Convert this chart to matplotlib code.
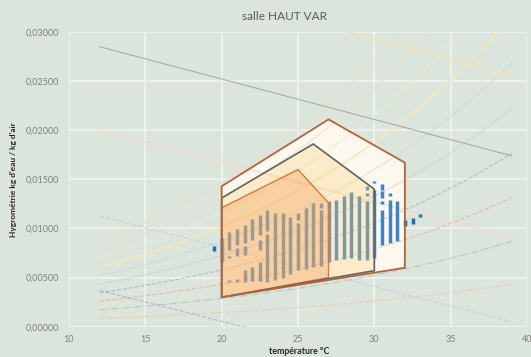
import numpy as np
import matplotlib
matplotlib.use("Agg")
import matplotlib.pyplot as plt
from matplotlib.patches import Polygon
from matplotlib.ticker import FuncFormatter

plt.rcParams['font.family'] = ['Lato', 'DejaVu Sans']

# ---- texts and ticks ----
title = "salle HAUT VAR"
x_label = "température °C"
y_label = "Hygrométrie kg d'eau / kg d'air"
x_ticks = [10, 15, 20, 25, 30, 35, 40]
y_ticks = [0.0, 0.005, 0.010, 0.015, 0.020, 0.025, 0.030]

# ---- comfort zones (temperature °C, humidity kg/kg) ----
zone_outer_t = [20, 20, 27, 32, 32]
zone_outer_w = [0.0030, 0.0143, 0.0211, 0.0167, 0.0060]
zone_mid_t = [20, 20, 26, 30, 30]
zone_mid_w = [0.0030, 0.0131, 0.0186, 0.0140, 0.0057]
zone_inner_t = [20, 20, 25, 27, 27]
zone_inner_w = [0.0030, 0.0121, 0.0160, 0.0126, 0.0050]

# ---- measured readings: humidity ranges observed at each temperature ----
meas_t = [19.5, 20.0,
          20.5, 20.5, 20.5,
          21.0, 21.0, 21.0,
          21.5, 21.5, 21.5,
          22.0, 22.0,
          22.5, 22.5, 22.5,
          23.0, 23.0,
          23.5, 24.0, 24.5,
          25.0, 25.0,
          25.5, 26.0,
          26.5, 26.5,
          27.0, 27.5, 28.0, 28.5, 29.0,
          29.5, 29.5, 29.5,
          30.0, 30.0,
          30.5, 30.5, 30.5, 30.5,
          31.0, 31.0,
          31.5, 32.0, 32.5, 33.0]
meas_lo = [0.0077, 0.0066,
           0.0078, 0.0070, 0.0045,
           0.0083, 0.0072, 0.0045,
           0.0085, 0.0073, 0.0046,
           0.0088, 0.0047,
           0.0093, 0.0078, 0.0047,
           0.0097, 0.0046,
           0.0048, 0.0050, 0.0054,
           0.0109, 0.0058,
           0.0059, 0.0061,
           0.0121, 0.0062,
           0.0066, 0.0068, 0.0069, 0.0070, 0.0068,
           0.0139, 0.0133, 0.0068,
           0.0146, 0.0070,
           0.0139, 0.0131, 0.0125, 0.0083,
           0.0133, 0.0085,
           0.0087, 0.0103, 0.0105, 0.0112]
meas_hi = [0.0082, 0.0090,
           0.0096, 0.0072, 0.0048,
           0.0099, 0.0080, 0.0049,
           0.0104, 0.0082, 0.0058,
           0.0110, 0.0061,
           0.0114, 0.0088, 0.0066,
           0.0119, 0.0094,
           0.0116, 0.0116, 0.0112,
           0.0116, 0.0106,
           0.0121, 0.0126,
           0.0126, 0.0119,
           0.0128, 0.0129, 0.0133, 0.0137, 0.0133,
           0.0143, 0.0136, 0.0128,
           0.0148, 0.0139,
           0.0145, 0.0138, 0.0128, 0.0119,
           0.0136, 0.0129,
           0.0128, 0.0109, 0.0111, 0.0115]

# ---- psychrometric guide lines ----
rh_levels = [10, 20, 30, 40, 50, 60, 70, 80, 90, 100]
rh_colors = ['#e6cf9f', '#9a9a9a', '#e2a27a', '#8394b8', '#c3d0e2',
             '#c9d6e6', '#f4e8bd', '#eee8d8', '#efdfc4', '#efd8cb']
rh_styles = ['--', '-.', '--', '--', '-', '-', '-', '-', '-', '-']
rh_widths = [1.0, 0.8, 0.9, 0.8, 1.0, 1.0, 1.6, 1.1, 1.2, 1.0]
rh_alphas = [0.7, 0.45, 0.55, 0.5, 0.6, 0.6, 0.9, 0.7, 0.7, 0.6]
enthalpy_levels = [21.4, 40.5, 62.5, 84.0, 105.0]
enthalpy_colors = ['#8796b6', '#bfcce2', '#f1dccb', '#9d9ea8', '#f1e2bb']
enthalpy_styles = ['--', '--', '-', '-', '-']
enthalpy_widths = [0.8, 0.9, 1.5, 0.8, 1.5]
enthalpy_alphas = [0.55, 0.7, 0.8, 0.85, 0.8]
guide_t_min, guide_t_max = 12, 39
pressure = 101325.0


def humidity_ratio(temp, rh):
    ps = 610.94 * np.exp(17.625 * temp / (temp + 243.04))
    pv = rh / 100.0 * ps
    return 0.622 * pv / (pressure - pv)


def enthalpy_humidity(temp, h):
    return (h - 1.006 * temp) / (2501.0 + 1.86 * temp)


bg = '#dce5db'
fig = plt.figure(figsize=(5.31, 3.57), dpi=100, facecolor=bg)
ax = fig.add_axes([69 / 531, 30.3 / 357, 458 / 531, 294.7 / 357], facecolor=bg)
ax.set_xlim(10, 40)
ax.set_ylim(0, 0.03)

# opaque base of the outer zone
ax.add_patch(Polygon(list(zip(zone_outer_t, zone_outer_w)), closed=True,
                     facecolor='#fdf8ee', edgecolor='none', zorder=1))

# guide curves
tt = np.linspace(guide_t_min, guide_t_max, 300)
for rh, c, ls, lw, a in zip(rh_levels, rh_colors, rh_styles, rh_widths, rh_alphas):
    ax.plot(tt, humidity_ratio(tt, rh), color=c, ls=ls, lw=lw, alpha=a, zorder=1.5)
te = np.array([guide_t_min, guide_t_max], dtype=float)
for h, c, ls, lw, a in zip(enthalpy_levels, enthalpy_colors, enthalpy_styles,
                           enthalpy_widths, enthalpy_alphas):
    ax.plot(te, enthalpy_humidity(te, h), color=c, ls=ls, lw=lw, alpha=a, zorder=1.5)

# measured readings
ax.vlines(meas_t, meas_lo, meas_hi, colors='#1f6fc0', lw=2.5, zorder=2)

# translucent zone fills over the readings
ax.add_patch(Polygon(list(zip(zone_outer_t, zone_outer_w)), closed=True,
                     facecolor=(1.0, 0.98, 0.92), alpha=0.15, edgecolor='none', zorder=3))
ax.add_patch(Polygon(list(zip(zone_mid_t, zone_mid_w)), closed=True,
                     facecolor=(0.98, 0.81, 0.45), alpha=0.30, edgecolor='none', zorder=3))
ax.add_patch(Polygon(list(zip(zone_inner_t, zone_inner_w)), closed=True,
                     facecolor=(0.96, 0.60, 0.33), alpha=0.32, edgecolor='none', zorder=3))

# zone outlines
ax.add_patch(Polygon(list(zip(zone_inner_t, zone_inner_w)), closed=True,
                     facecolor='none', edgecolor='#d4793f', lw=1.0, zorder=4))
ax.add_patch(Polygon(list(zip(zone_mid_t, zone_mid_w)), closed=True,
                     facecolor='none', edgecolor='#5d6266', lw=1.2, zorder=4))
ax.add_patch(Polygon(list(zip(zone_outer_t, zone_outer_w)), closed=True,
                     facecolor='none', edgecolor='#b0643b', lw=1.3, zorder=4))

# axes styling
ax.set_xticks(x_ticks)
ax.set_yticks(y_ticks)
ax.yaxis.set_major_formatter(FuncFormatter(lambda v, p: f"{v:.5f}".replace('.', ',')))
ax.grid(True, color='#f2f5f0', lw=1.1)
ax.set_axisbelow(True)
for s in ax.spines.values():
    s.set_visible(False)
ax.tick_params(length=0, labelsize=6.5, labelcolor='#808080')
ax.tick_params(axis='y', pad=7)
ax.tick_params(axis='x', pad=6)

fig.text(285 / 531, 1 - 17 / 357, title, ha='center', va='center',
         fontsize=8.5, color='#595959')
fig.text(299 / 531, 1 - 351 / 357, x_label, ha='center', va='center',
         fontsize=6.3, fontweight='bold', color='#262626')
fig.text(14 / 531, 1 - 180 / 357, y_label, ha='center', va='center', rotation=90,
         fontsize=6.0, fontweight='bold', color='#262626')

fig.savefig('out.png', dpi=100, facecolor=bg)
